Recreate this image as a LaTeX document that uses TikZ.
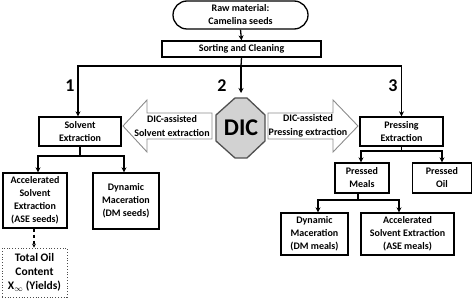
\documentclass[tikz,border=0pt]{standalone}
\usepackage{fontspec}
\setmainfont{Carlito}
\usetikzlibrary{arrows.meta}
\definecolor{octfill}{HTML}{D2D2D2}
\definecolor{octline}{HTML}{505050}
\definecolor{arrline}{HTML}{8C8C8C}
\tikzset{
  box/.style={draw, line width=1.3pt, align=center, inner sep=1pt, font=\bfseries\fontsize{10}{13}\selectfont},
  conn/.style={line width=1.3pt, -{Stealth[length=5pt,width=5pt]}},
  plain/.style={line width=1.3pt},
  num/.style={font=\bfseries\fontsize{18}{18}\selectfont},
  bigarrow/.style={draw=arrline, fill=white, line width=0.9pt},
  arrtext/.style={align=center, inner sep=0pt, font=\bfseries\fontsize{10}{13.5}\selectfont}
}
\begin{document}
\begin{tikzpicture}[x=1pt,y=-1pt]
\useasboundingbox (0,0) rectangle (473,299);
% top nodes
\node[box, rounded corners=14pt, minimum width=135pt, minimum height=28pt] (raw) at (240.5,15) {Raw material:\\Camelina seeds};
\node[box, minimum width=159pt, minimum height=16pt] (sort) at (241.5,49) {Sorting and Cleaning};
\node[box, minimum width=82pt, minimum height=29pt] (solv) at (80,131.5) {Solvent\\Extraction};
\node[box, minimum width=83pt, minimum height=29pt] (press) at (401.5,131.5) {Pressing\\Extraction};
% left branch
\node[box, minimum width=64pt, minimum height=55pt] (ase) at (35,200.5) {Accelerated\\Solvent\\Extraction\\(ASE seeds)};
\node[box, minimum width=66pt, minimum height=56pt] (dm) at (126,201) {Dynamic\\Maceration\\(DM seeds)};
\node[box, draw=black!70, line width=0.8pt, dotted, minimum width=65pt, minimum height=49pt, font=\bfseries\fontsize{11.5}{14}\selectfont] (tot) at (34.5,272.5) {Total Oil\\Content\\X$_\infty$ (Yields)};
% right branch
\node[box, minimum width=54pt, minimum height=30pt] (pmeal) at (362,178) {Pressed\\Meals};
\node[box, minimum width=59pt, minimum height=30pt] (poil) at (442,178) {Pressed\\Oil};
\node[box, minimum width=67pt, minimum height=42pt] (dmm) at (314.5,234) {Dynamic\\Maceration\\(DM meals)};
\node[box, minimum width=93pt, minimum height=42pt] (asem) at (407.5,234) {Accelerated\\Solvent Extraction\\(ASE meals)};
% big arrows
\draw[bigarrow] (212,113) -- (147,113) -- (147,100) -- (123,126) -- (147,152) -- (147,139) -- (212,139) -- cycle;
\node[arrtext] (ltxt) at (172,126) {DIC-assisted\\Solvent extraction};
\draw[bigarrow] (268,113) -- (333,113) -- (333,100) -- (358,126) -- (333,152) -- (333,139) -- (268,139) -- cycle;
\node[arrtext] (rtxt) at (308,126) {DIC-assisted\\Pressing extraction};
% octagon
\draw[draw=octline, fill=octfill, line width=1.3pt] (235,98) -- (247,98) -- (265,115) -- (265,141) -- (247,158) -- (235,158) -- (216,141) -- (216,115) -- cycle;
\node[font=\bfseries\fontsize{24}{24}\selectfont, inner sep=0pt] (dic) at (241,128) {DIC};
% numbers
\node[num] (n1) at (70,86) {1};
\node[num] (n2) at (222,86) {2};
\node[num] (n3) at (393,86) {3};
% connectors
\coordinate (bus) at (241,66);
\coordinate (dictop) at (241,93);
\draw[conn] (raw.south) -- (sort.north);
\draw[plain] (sort.south) -- (bus);
\draw[conn] (bus) -| ([xshift=-2pt]solv.north);
\draw[conn] (bus) -| (press.north);
\draw[conn] (bus) -- (dictop);
\coordinate (lbus) at (80,156);
\draw[plain] (solv.south) -- (lbus);
\draw[conn] (lbus) -| ([xshift=3pt]ase.north);
\draw[conn] (lbus) -| ([xshift=-2pt]dm.north);
\draw[line width=1.2pt, dashed, -{Stealth[length=4pt,width=4pt]}] ([xshift=-1pt]ase.south) -- ([xshift=-0.5pt]tot.north);
\coordinate (rbus) at (401.5,151);
\draw[plain] (press.south) -- (rbus);
\draw[conn] (rbus) -| ([xshift=-1pt]pmeal.north);
\draw[conn] (rbus) -| (poil.north);
\coordinate (mbus) at (358,200);
\draw[plain] ([xshift=-4pt]pmeal.south) -- (mbus);
\draw[conn] (mbus) -| ([xshift=3.5pt]dmm.north);
\draw[conn] (mbus) -| ([xshift=-8.5pt]asem.north);
\end{tikzpicture}
\end{document}
